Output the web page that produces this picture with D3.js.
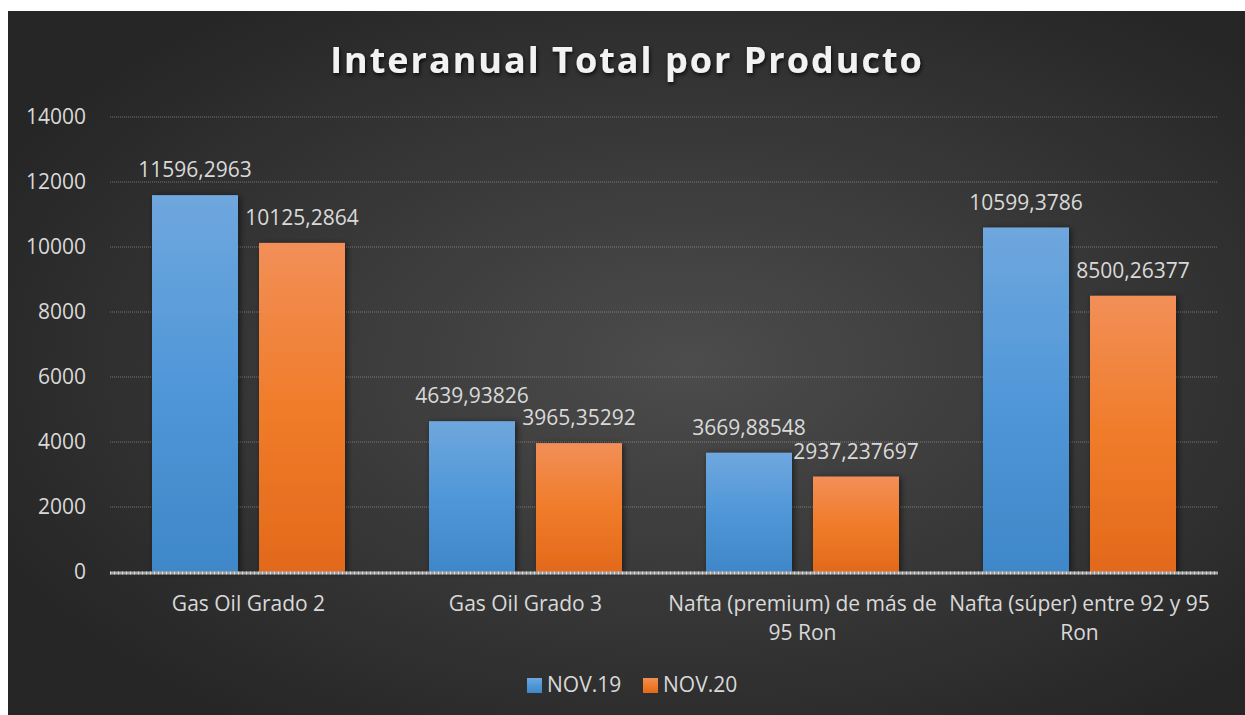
<!DOCTYPE html>
<html>
<head>
<meta charset="utf-8">
<script src="https://cdn.jsdelivr.net/npm/d3@7"></script>
<style>
  html, body { margin: 0; padding: 0; background: #fff; }
  svg { display: block; }
</style>
</head>
<body>
<div id="chart"></div>
<script>
// --- data ---
const categories = [
  "Gas Oil Grado 2",
  "Gas Oil Grado 3",
  "Nafta (premium) de más de 95 Ron",
  "Nafta (súper) entre 92 y 95 Ron"
];
const seriesNames = ["NOV.19", "NOV.20"];
const nov19 = [11596.2963, 4639.93826, 3669.88548, 10599.3786];
const nov20 = [10125.2864, 3965.35292, 2937.237697, 8500.26377];
const nov19Labels = ["11596,2963", "4639,93826", "3669,88548", "10599,3786"];
const nov20Labels = ["10125,2864", "3965,35292", "2937,237697", "8500,26377"];
const yTicks = [0, 2000, 4000, 6000, 8000, 10000, 12000, 14000];

const W = 1245, H = 715;
const font = "'Open Sans', sans-serif";
const fs = 21;
const margin = { left: 110, right: 27, top: 117, bottom: 143 };

const svg = d3.select("#chart").append("svg")
  .attr("width", W).attr("height", H);

const defs = svg.append("defs");

const bg = defs.append("radialGradient").attr("id", "bg")
  .attr("cx", "55%").attr("cy", "50%").attr("r", "62%");
bg.append("stop").attr("offset", "0%").attr("stop-color", "#4c4c4c");
bg.append("stop").attr("offset", "100%").attr("stop-color", "#262626");

const gBlue = defs.append("linearGradient").attr("id", "gBlue")
  .attr("x1", 0).attr("y1", 0).attr("x2", 0).attr("y2", 1);
gBlue.append("stop").attr("offset", "0%").attr("stop-color", "#6fa7de");
gBlue.append("stop").attr("offset", "50%").attr("stop-color", "#5097d8");
gBlue.append("stop").attr("offset", "100%").attr("stop-color", "#3f87c8");

const gOrange = defs.append("linearGradient").attr("id", "gOrange")
  .attr("x1", 0).attr("y1", 0).attr("x2", 0).attr("y2", 1);
gOrange.append("stop").attr("offset", "0%").attr("stop-color", "#f28f58");
gOrange.append("stop").attr("offset", "50%").attr("stop-color", "#f07c2a");
gOrange.append("stop").attr("offset", "100%").attr("stop-color", "#e2691a");

const shadow = defs.append("filter").attr("id", "shadow")
  .attr("x", "-20%").attr("y", "-20%").attr("width", "150%").attr("height", "150%");
shadow.append("feDropShadow").attr("dx", 2).attr("dy", 1).attr("stdDeviation", 3)
  .attr("flood-color", "#000").attr("flood-opacity", 0.55);

const tshadow = defs.append("filter").attr("id", "tshadow")
  .attr("x", "-10%").attr("y", "-30%").attr("width", "120%").attr("height", "170%");
tshadow.append("feDropShadow").attr("dx", 1).attr("dy", 2).attr("stdDeviation", 2)
  .attr("flood-color", "#000").attr("flood-opacity", 0.8);

// chart background
svg.append("rect").attr("x", 8).attr("y", 11)
  .attr("width", W - 8).attr("height", H - 11)
  .attr("fill", "url(#bg)");

// title
svg.append("text")
  .attr("x", 627).attr("y", 73)
  .attr("text-anchor", "middle")
  .attr("font-family", font).attr("font-weight", "bold")
  .attr("font-size", 36).attr("letter-spacing", 2)
  .attr("fill", "#f2f2f2")
  .attr("filter", "url(#tshadow)")
  .text("Interanual Total por Producto");

// scales
const x0 = d3.scaleBand().domain(categories)
  .range([margin.left, W - margin.right]).paddingInner(0).paddingOuter(0);
const x1 = d3.scaleBand().domain(seriesNames)
  .range([42, 235]).paddingInner(21 / 107).paddingOuter(0);
const y = d3.scaleLinear().domain([0, 14000])
  .range([H - margin.bottom, margin.top]);

// gridlines
svg.append("g")
  .selectAll("line").data(yTicks.filter(d => d > 0)).join("line")
  .attr("x1", margin.left).attr("x2", W - margin.right)
  .attr("y1", d => y(d)).attr("y2", d => y(d))
  .attr("stroke", "#a6a6a6").attr("stroke-opacity", 0.6)
  .attr("stroke-width", 1).attr("stroke-dasharray", "1,1");

// y axis labels
const yAxis = svg.append("g")
  .attr("transform", `translate(${margin.left},0)`)
  .call(d3.axisLeft(y).tickValues(yTicks).tickSize(0).tickPadding(24).tickFormat(d3.format("d")));
yAxis.select(".domain").remove();
yAxis.selectAll("text")
  .attr("font-family", font).attr("font-size", fs).attr("fill", "#d9d9d9");

// bars
const rows = categories.map((c, i) => ({
  cat: c,
  vals: [
    { s: seriesNames[0], v: nov19[i], lab: nov19Labels[i], fill: "url(#gBlue)" },
    { s: seriesNames[1], v: nov20[i], lab: nov20Labels[i], fill: "url(#gOrange)" }
  ]
}));

const group = svg.append("g").selectAll("g").data(rows).join("g")
  .attr("transform", d => `translate(${x0(d.cat)},0)`);

group.selectAll("rect").data(d => d.vals).join("rect")
  .attr("x", d => x1(d.s))
  .attr("y", d => y(d.v))
  .attr("width", x1.bandwidth())
  .attr("height", d => y(0) - y(d.v))
  .attr("fill", d => d.fill)
  .attr("filter", "url(#shadow)");

group.selectAll("text").data(d => d.vals).join("text")
  .attr("x", d => x1(d.s) + x1.bandwidth() / 2)
  .attr("y", d => y(d.v) - 18)
  .attr("text-anchor", "middle")
  .attr("font-family", font).attr("font-size", fs).attr("fill", "#d9d9d9")
  .text(d => d.lab);

// zero axis line
svg.append("line")
  .attr("x1", margin.left).attr("x2", W - margin.right)
  .attr("y1", y(0) + 1).attr("y2", y(0) + 1)
  .attr("stroke", "#a6a6a6").attr("stroke-width", 3);
svg.append("line")
  .attr("x1", margin.left).attr("x2", W - margin.right)
  .attr("y1", y(0) + 1).attr("y2", y(0) + 1)
  .attr("stroke", "#d9d9d9").attr("stroke-width", 3).attr("stroke-dasharray", "1,3");

// category labels (wrapped to band width)
const catText = svg.append("g").selectAll("text").data(categories).join("text")
  .attr("x", d => x0(d) + x0.bandwidth() / 2)
  .attr("y", 611)
  .attr("text-anchor", "middle")
  .attr("font-family", font).attr("font-size", fs).attr("fill", "#d9d9d9");

catText.each(function (d) {
  const t = d3.select(this);
  const words = d.split(" ");
  let line = [];
  let ts = t.append("tspan").attr("x", t.attr("x")).attr("dy", 0);
  words.forEach(w => {
    line.push(w);
    ts.text(line.join(" "));
    if (ts.node().getComputedTextLength() > x0.bandwidth() + 4 && line.length > 1) {
      line.pop();
      ts.text(line.join(" "));
      line = [w];
      ts = t.append("tspan").attr("x", t.attr("x")).attr("dy", 29).text(w);
    }
  });
});

// legend
const legend = svg.append("g");
const legItems = [
  { name: seriesNames[0], fill: "url(#gBlue)", x: 527 },
  { name: seriesNames[1], fill: "url(#gOrange)", x: 643 }
];
const li = legend.selectAll("g").data(legItems).join("g")
  .attr("transform", d => `translate(${d.x},678)`);
li.append("rect").attr("width", 15).attr("height", 15).attr("fill", d => d.fill);
li.append("text").attr("x", 20).attr("y", 14)
  .attr("font-family", font).attr("font-size", fs).attr("fill", "#d9d9d9")
  .text(d => d.name);
</script>
</body>
</html>
